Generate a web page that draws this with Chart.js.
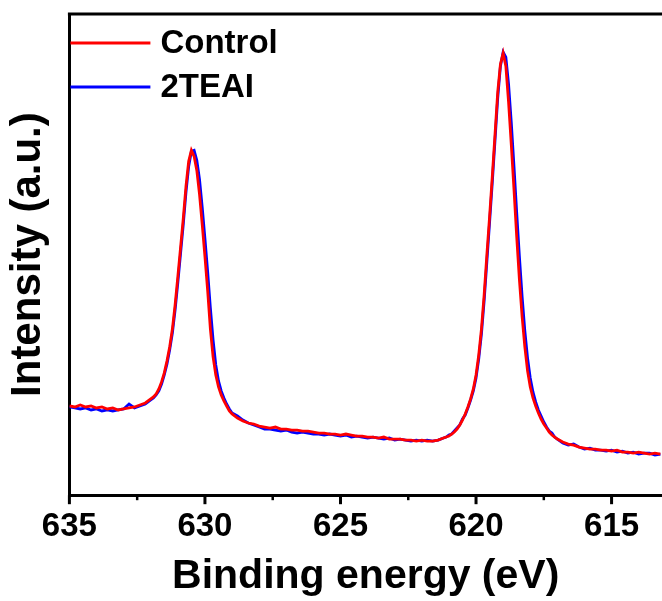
<!DOCTYPE html>
<html lang="en">
  <head>
    <meta charset="UTF-8" />
    <title>Binding energy</title>
    <script src="https://cdn.jsdelivr.net/npm/chart.js"></script>
    <style>
      html, body { margin: 0; padding: 0; background: #fff; }
      #wrap { width: 662px; height: 601px; }
    </style>
  </head>
  <body>
    <div id="wrap"><canvas id="grafico" width="662" height="601"></canvas></div>

    <script>
      // binding energy grid (eV), finer steps across the two peaks
      const energy = [
        635.0, 634.8, 634.6, 634.4, 634.2, 634.0, 633.8, 633.6, 633.4, 633.2, 633.0, 632.8, 632.6, 632.4, 632.2, 632.0,
        631.9, 631.8, 631.7, 631.6, 631.5, 631.4, 631.3, 631.2, 631.1, 631.0, 630.9, 630.8, 630.7, 630.6, 630.5,
        630.4, 630.3, 630.2, 630.1, 630.0, 629.9, 629.8, 629.7, 629.6, 629.5, 629.4, 629.3, 629.2, 629.1, 629.0,
        628.8, 628.6, 628.4, 628.2, 628.0, 627.8, 627.6, 627.4, 627.2, 627.0, 626.8, 626.6, 626.4, 626.2, 626.0,
        625.8, 625.6, 625.4, 625.2, 625.0, 624.8, 624.6, 624.4, 624.2, 624.0, 623.8, 623.6, 623.4, 623.2, 623.0,
        622.8, 622.6, 622.4, 622.2, 622.0, 621.8, 621.6, 621.4, 621.2,
        621.1, 621.0, 620.9, 620.8, 620.7, 620.6, 620.5, 620.4, 620.3, 620.2, 620.1, 620.0, 619.9, 619.8, 619.7,
        619.6, 619.5, 619.4, 619.3, 619.2, 619.1, 619.0, 618.9, 618.8, 618.7, 618.6, 618.5, 618.4, 618.3, 618.2,
        618.1, 618.0, 617.9, 617.8, 617.7, 617.6, 617.5, 617.4, 617.3, 617.2, 617.1, 617.0,
        616.8, 616.6, 616.4, 616.2, 616.0, 615.8, 615.6, 615.4, 615.2, 615.0, 614.8, 614.6, 614.4, 614.2, 614.0,
        613.8, 613.6, 613.4, 613.2
      ];

      const controlCounts = [
        89, 88, 90, 88, 89, 87, 88, 86, 87, 85, 86, 87, 88, 90, 92, 96,
        98, 101, 106, 113, 122, 134, 148, 166, 190, 218, 247, 276, 308, 333, 344,
        338, 324, 300, 270, 238, 204, 166, 138, 120, 108, 100, 94, 89, 84, 81,
        77, 74, 72, 71, 69, 68, 67, 68, 66, 66, 65, 65, 64, 64, 63,
        62, 62, 61, 61, 60, 61, 60, 59, 59, 58, 58, 57, 58, 56, 56,
        56, 55, 55, 54, 55, 54, 54, 55, 57,
        58, 59, 61, 63, 66, 70, 75, 81, 88, 96, 106, 120, 140, 166, 200,
        240, 278, 318, 360, 402, 430, 441, 428, 392, 350, 305, 258, 215, 178, 148,
        124, 108, 97, 89, 82, 76, 71, 67, 63, 60, 58, 56,
        53, 51, 50, 48, 47, 46, 46, 45, 45, 44, 45, 43, 43, 42, 43,
        42, 41, 42, 41
      ];

      const teaiCounts = [
        88, 87, 86, 87, 85, 86, 84, 85, 84, 85, 86, 91, 87, 89, 91, 95,
        97, 100, 104, 111, 120, 131, 145, 162, 185, 212, 241, 270, 302, 328, 343,
        344, 334, 315, 287, 256, 223, 187, 155, 130, 114, 104, 97, 91, 86, 82,
        79, 75, 72, 70, 68, 66, 66, 65, 64, 65, 63, 62, 63, 62, 61,
        61, 60, 61, 60, 59, 60, 58, 59, 58, 57, 58, 57, 56, 57, 55,
        56, 55, 54, 55, 54, 55, 54, 55, 57,
        58, 60, 61, 64, 67, 70, 76, 80, 87, 95, 104, 117, 136, 161, 194,
        233, 272, 312, 354, 396, 428, 442, 437, 410, 372, 328, 282, 238, 198, 164,
        137, 117, 103, 93, 85, 79, 73, 68, 64, 62, 58, 56,
        52, 50, 51, 48, 46, 47, 45, 45, 44, 45, 43, 44, 42, 43, 41,
        42, 42, 40, 41
      ];

      const seriesNames = ['Control', '2TEAI'];
      const majorTicks = [635, 630, 625, 620, 615];
      const minorTicks = [632.5, 627.5, 622.5, 617.5];

      const FONT = 'Arial, "Liberation Sans", sans-serif';

      const toPoints = (ys) => energy.map((e, i) => ({ x: e, y: ys[i] }));

      // frame top edge, tick marks and the legend drawn on the canvas
      const framePlugin = {
        id: 'frame',
        afterDraw(chart) {
          const { ctx, chartArea } = chart;
          const xs = chart.scales.x;
          ctx.save();
          ctx.strokeStyle = '#000';
          ctx.lineWidth = 3;
          ctx.beginPath();
          ctx.moveTo(chartArea.left - 1.5, chartArea.top);
          ctx.lineTo(chartArea.right, chartArea.top);
          ctx.stroke();

          const drawTick = (v, len) => {
            const px = xs.getPixelForValue(v);
            ctx.beginPath();
            ctx.moveTo(px, chartArea.bottom);
            ctx.lineTo(px, chartArea.bottom + len);
            ctx.stroke();
          };
          majorTicks.forEach(v => drawTick(v, 9));
          ctx.lineWidth = 2.5;
          minorTicks.forEach(v => drawTick(v, 5));

          // legend
          ctx.font = 'bold 33px ' + FONT;
          ctx.textBaseline = 'middle';
          ctx.textAlign = 'left';
          chart.data.datasets.forEach((ds, i) => {
            const y = chartArea.top + 29 + i * 44;
            ctx.strokeStyle = ds.borderColor;
            ctx.lineWidth = 3;
            ctx.beginPath();
            ctx.moveTo(chartArea.left + 1, y);
            ctx.lineTo(chartArea.left + 81, y);
            ctx.stroke();
            ctx.fillStyle = '#000';
            ctx.fillText(ds.label, chartArea.left + 91, y + 1);
          });
          ctx.restore();
        }
      };

      const chart = new Chart(document.getElementById('grafico').getContext('2d'), {
        type: 'line',
        data: {
          datasets: [
            {
              label: seriesNames[0],
              data: toPoints(controlCounts),
              borderColor: '#ff0000',
              borderWidth: 2.8,
              pointRadius: 0,
              tension: 0
            },
            {
              label: seriesNames[1],
              data: toPoints(teaiCounts),
              borderColor: '#0000ff',
              borderWidth: 2.8,
              pointRadius: 0,
              tension: 0
            }
          ]
        },
        options: {
          responsive: false,
          animation: false,
          layout: { padding: { top: 14, left: 0, right: 0, bottom: 0 } },
          plugins: {
            legend: { display: false },
            tooltip: { enabled: false }
          },
          scales: {
            x: {
              type: 'linear',
              reverse: true,
              min: 613.14,
              max: 635,
              grid: { display: false, drawTicks: false },
              border: { display: true, color: '#000', width: 3 },
              ticks: {
                stepSize: 5,
                includeBounds: false,
                maxRotation: 0,
                autoSkip: false,
                padding: 12,
                color: '#000',
                font: { family: FONT, size: 33, weight: 'bold' }
              },
              title: {
                display: true,
                text: 'Binding energy (eV)',
                color: '#000',
                font: { family: FONT, size: 41, weight: 'bold' },
                padding: { top: -7, bottom: 0 }
              }
            },
            y: {
              min: 0,
              max: 480,
              grid: { display: false, drawTicks: false },
              border: { display: true, color: '#000', width: 3 },
              ticks: { display: false },
              title: {
                display: true,
                text: 'Intensity (a.u.)',
                color: '#000',
                font: { family: FONT, size: 42, weight: 'bold' },
                padding: { top: 3, bottom: 16 }
              }
            }
          }
        },
        plugins: [framePlugin]
      });
    </script>
  </body>
</html>
